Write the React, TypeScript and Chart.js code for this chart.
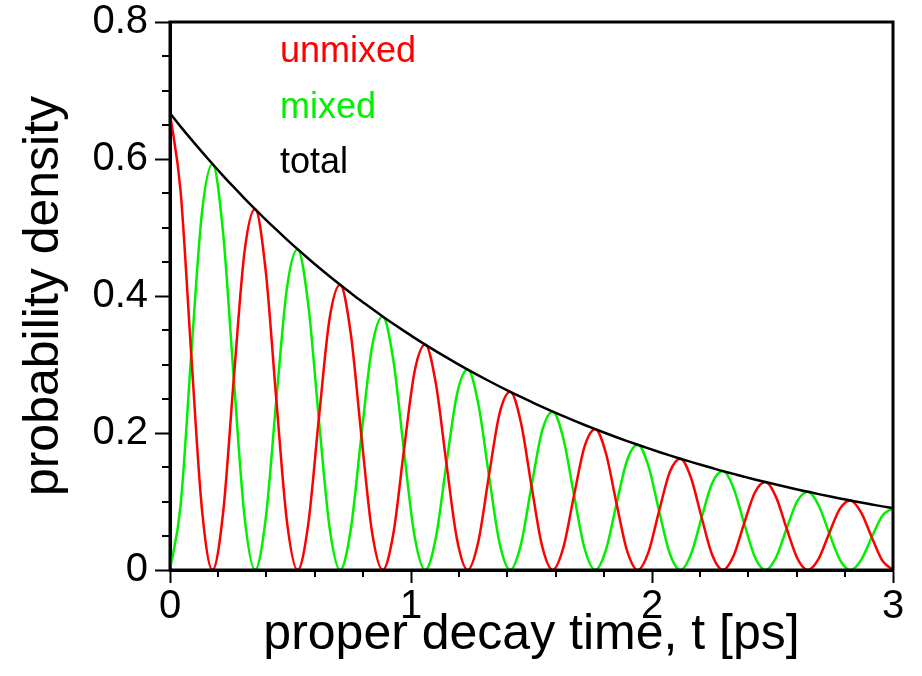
import React, { useEffect, useRef } from "react";
import { Chart, registerables } from "chart.js";

Chart.register(...registerables);

const times = [0,0.0441,0.0882,0.1324,0.1765,0.2206,0.2647,0.3088,0.3529,0.3971,0.4412,0.4853,0.5294,0.5735,0.6176,0.6618,0.7059,0.75,0.7941,0.8382,0.8824,0.9265,0.9706,1.0147,1.0588,1.1029,1.1471,1.1912,1.2353,1.2794,1.3235,1.3676,1.4118,1.4559,1.5,1.5441,1.5882,1.6324,1.6765,1.7206,1.7647,1.8088,1.8529,1.8971,1.9412,1.9853,2.0294,2.0735,2.1176,2.1618,2.2059,2.25,2.2941,2.3382,2.3824,2.4265,2.4706,2.5147,2.5588,2.6029,2.6471,2.6912,2.7353,2.7794,2.8235,2.8676,2.9118,2.9559,3.0];

const total = [0.6667,0.6473,0.6286,0.6104,0.5927,0.5755,0.5588,0.5426,0.5269,0.5116,0.4968,0.4824,0.4684,0.4548,0.4416,0.4288,0.4164,0.4044,0.3926,0.3813,0.3702,0.3595,0.3491,0.3389,0.3291,0.3196,0.3103,0.3013,0.2926,0.2841,0.2759,0.2679,0.2601,0.2526,0.2453,0.2381,0.2312,0.2245,0.2180,0.2117,0.2056,0.1996,0.1938,0.1882,0.1828,0.1775,0.1723,0.1673,0.1625,0.1578,0.1532,0.1488,0.1444,0.1403,0.1362,0.1322,0.1284,0.1247,0.1211,0.1176,0.1142,0.1108,0.1076,0.1045,0.1015,0.0985,0.0957,0.0929,0.0902];

const unmixed = [0.6667,0.5525,0.3143,0.0894,0,0.0843,0.2794,0.4632,0.5269,0.4367,0.2484,0.0706,0,0.0666,0.2208,0.3660,0.4164,0.3452,0.1963,0.0558,0,0.0526,0.1746,0.2893,0.3291,0.2728,0.1552,0.0441,0,0.0416,0.1380,0.2287,0.2601,0.2156,0.1227,0.0349,0,0.0329,0.1090,0.1807,0.2056,0.1704,0.0969,0.0276,0,0.0260,0.0862,0.1428,0.1625,0.1347,0.0766,0.0218,0,0.0205,0.0681,0.1128,0.1284,0.1064,0.0606,0.0172,0,0.0162,0.0538,0.0892,0.1015,0.0841,0.0479,0.0136,0];

const mixed = [0,0.0948,0.3143,0.5210,0.5927,0.4912,0.2794,0.0794,0,0.0749,0.2484,0.4118,0.4684,0.3882,0.2208,0.0628,0,0.0592,0.1963,0.3255,0.3702,0.3069,0.1746,0.0496,0,0.0468,0.1552,0.2572,0.2926,0.2425,0.1380,0.0392,0,0.0370,0.1227,0.2032,0.2312,0.1916,0.1090,0.0310,0,0.0292,0.0969,0.1606,0.1828,0.1515,0.0862,0.0245,0,0.0231,0.0766,0.1270,0.1444,0.1198,0.0681,0.0194,0,0.0183,0.0606,0.1004,0.1142,0.0946,0.0538,0.0153,0,0.0144,0.0479,0.0793,0.0902];

const seriesNames = ["total", "unmixed", "mixed"];
const seriesColors = ["#000000", "#ff0000", "#00f000"];
const legendNames = ["unmixed", "mixed", "total"];
const legendColors = ["#ff0000", "#00f000", "#000000"];

const xMajorTicks = [0, 1, 2, 3];
const xMinorTicks = [0.2, 0.4, 0.6, 0.8, 1.2, 1.4, 1.6, 1.8, 2.2, 2.4, 2.6, 2.8];
const yTickLabels = ["0", "0.2", "0.4", "0.6", "0.8"];
const yMinorTicks = [0.05, 0.1, 0.15, 0.25, 0.3, 0.35, 0.45, 0.5, 0.55, 0.65, 0.7, 0.75];

const xTitle = "proper decay time, t [ps]";
const yTitle = "probability density";

const FONT = "'Liberation Sans', Arial, Helvetica, sans-serif";

const decorPlugin = {
  id: "decor",
  afterDraw(chart: any) {
    const ctx = chart.ctx;
    const ca = chart.chartArea;
    const xs = chart.scales.x;
    const ys = chart.scales.y;
    ctx.save();
    ctx.strokeStyle = "#000";
    ctx.lineWidth = 2;
    ctx.beginPath();
    for (const v of yMinorTicks) {
      const py = Math.round(ys.getPixelForValue(v));
      ctx.moveTo(ca.left - 8, py);
      ctx.lineTo(ca.left, py);
    }
    for (const v of xMinorTicks) {
      const px = Math.round(xs.getPixelForValue(v));
      ctx.moveTo(px, ca.bottom);
      ctx.lineTo(px, ca.bottom + 7);
    }
    ctx.stroke();
    ctx.lineWidth = 3;
    ctx.strokeRect(ca.left, ca.top, ca.right - ca.left, ca.bottom - ca.top);
    ctx.font = "36px " + FONT;
    ctx.textAlign = "left";
    ctx.textBaseline = "alphabetic";
    legendNames.forEach((n, i) => {
      ctx.fillStyle = legendColors[i];
      ctx.fillText(n, ca.left + 110, ca.top + 40 + i * 55.5);
    });
    ctx.restore();
  },
};

export default function App() {
  const ref = useRef<HTMLCanvasElement | null>(null);
  useEffect(() => {
    if (!ref.current) return;
    const seriesData = [total, unmixed, mixed];
    const chart = new Chart(ref.current, {
      type: "line",
      data: {
        datasets: seriesNames.map((name, i) => ({
          label: name,
          data: times.map((t, k) => ({ x: t, y: seriesData[i][k] })),
          borderColor: seriesColors[i],
          backgroundColor: seriesColors[i],
          borderWidth: 2.5,
          pointRadius: 0,
          fill: false,
          cubicInterpolationMode: "monotone",
        })),
      },
      options: {
        animation: false,
        responsive: false,
        events: [],
        layout: { padding: { top: 22, right: 29, left: 0, bottom: 0 } },
        plugins: { legend: { display: false }, tooltip: { enabled: false } },
        scales: {
          x: {
            type: "linear",
            min: 0,
            max: 3,
            afterFit: (s: any) => { s.height = 106; s.paddingLeft = 0; s.paddingRight = 0; },
            afterBuildTicks: (s: any) => { s.ticks = xMajorTicks.map((v) => ({ value: v })); },
            ticks: {
              color: "#000",
              font: { family: FONT, size: 40 },
              padding: 0,
              maxRotation: 0,
              callback: (v: any) => String(v),
            },
            grid: { drawOnChartArea: false, drawTicks: true, tickLength: 13, tickColor: "#000", tickWidth: 2 },
            border: { display: true, color: "#000", width: 3 },
            title: { display: true, text: xTitle, color: "#000", font: { family: FONT, size: 50 }, padding: { top: 0, bottom: 11 } },
          },
          y: {
            type: "linear",
            min: 0,
            max: 0.8,
            afterFit: (s: any) => { s.width = 170; s.paddingTop = 0; s.paddingBottom = 0; },
            afterBuildTicks: (s: any) => { s.ticks = yTickLabels.map((l) => ({ value: parseFloat(l) })); },
            ticks: {
              color: "#000",
              font: { family: FONT, size: 40 },
              padding: 7,
              callback: (v: any, i: number) => yTickLabels[i],
            },
            grid: { drawOnChartArea: false, drawTicks: true, tickLength: 15, tickColor: "#000", tickWidth: 2 },
            border: { display: true, color: "#000", width: 3 },
            title: { display: true, text: yTitle, color: "#000", font: { family: FONT, size: 50 }, padding: { top: 14, bottom: 0 } },
          },
        },
      },
      plugins: [decorPlugin],
    } as any);
    return () => chart.destroy();
  }, []);
  return (
    <div style={{ position: "absolute", left: 0, top: 0, width: 922, height: 676, background: "#fff" }}>
      <canvas ref={ref} width={922} height={676} />
    </div>
  );
}
